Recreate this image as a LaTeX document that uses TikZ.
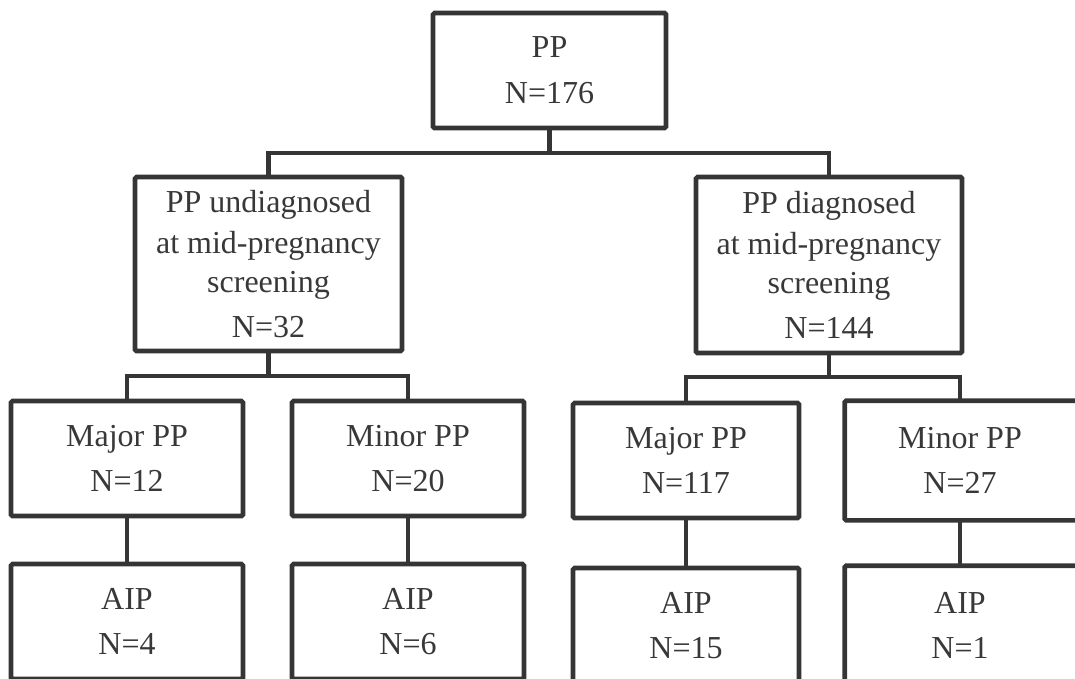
\documentclass[tikz,border=0pt]{standalone}
\usepackage{fontspec}
\setmainfont{Liberation Serif}
\definecolor{linegray}{HTML}{353535}
\definecolor{textgray}{HTML}{383838}
\tikzset{
  box/.style={draw=linegray, line width=4.6pt, rounded corners=1.5pt, text=textgray,
    align=center, inner sep=0pt, font=\fontsize{32}{40}\selectfont},
  ghost/.style={box, draw=none},
  conn/.style={draw=linegray, line width=4.6pt}
}
\begin{document}
\begin{tikzpicture}[x=1pt,y=-1pt]
\useasboundingbox (0,0) rectangle (1075,678);
\clip (0,0) rectangle (1075,678);
% level 0
\node[box, minimum width=233pt, minimum height=115pt] (top) at (549.5,70.5) {PP\\[6pt]N=176};
% level 1
\node[box, minimum width=267pt, minimum height=174pt] (und) at (268.5,264)
  {PP undiagnosed\\[1pt]at mid-pregnancy\\[-1pt]screening\\[5pt]N=32};
\node[box, minimum width=266pt, minimum height=176pt] (dia) at (829,265)
  {PP diagnosed\\[1pt]at mid-pregnancy\\[-1pt]screening\\[5pt]N=144};
% level 2
\node[box, minimum width=232pt, minimum height=115pt] (maj1) at (127,458.5) {Major PP\\[5pt]N=12};
\node[box, minimum width=232pt, minimum height=115pt] (min1) at (408,458.5) {Minor PP\\[5pt]N=20};
\node[box, minimum width=226pt, minimum height=115pt] (maj2) at (686,460.5) {Major PP\\[5pt]N=117};
\node[ghost, minimum width=226pt, minimum height=115pt] (min2) at (960,460.5) {Minor PP\\[5pt]N=27};
\draw[box] (min2.north west) rectangle ([xshift=30pt]min2.south east);
% level 3
\node[box, minimum width=232pt, minimum height=115pt] (aip1) at (127,621.5) {AIP\\[5pt]N=4};
\node[box, minimum width=232pt, minimum height=115pt] (aip2) at (408,621.5) {AIP\\[5pt]N=6};
\node[box, minimum width=226pt, minimum height=115pt] (aip3) at (686,625.5) {AIP\\[5pt]N=15};
\node[ghost, minimum width=226pt, minimum height=115pt] (aip4) at (960,625.5) {AIP\\[5pt]N=1};
\draw[box] (aip4.north west) rectangle ([xshift=30pt]aip4.south east);
% junction points
\coordinate (b1) at (549.5,153);
\coordinate (b2) at (268.5,376);
\coordinate (b3) at (829,377);
% connectors
\draw[conn] (top.south) -- (b1);
\draw[conn] (und.north) |- (b1) -| (dia.north);
\draw[conn] (und.south) -- (b2);
\draw[conn] (maj1.north) |- (b2) -| (min1.north);
\draw[conn] (dia.south) -- (b3);
\draw[conn] (maj2.north) |- (b3) -| (min2.north);
\draw[conn] (maj1.south) -- (aip1.north);
\draw[conn] (min1.south) -- (aip2.north);
\draw[conn] (maj2.south) -- (aip3.north);
\draw[conn] (min2.south) -- (aip4.north);
\end{tikzpicture}
\end{document}
